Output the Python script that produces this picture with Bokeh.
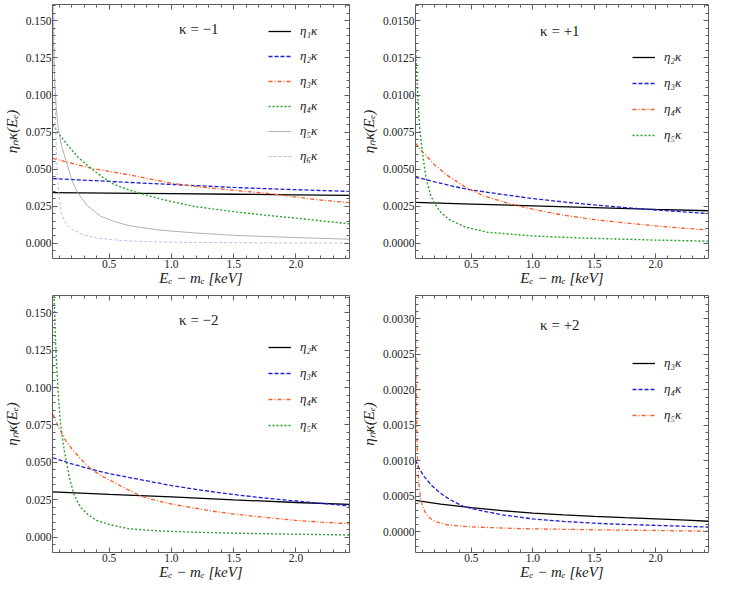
from bokeh.plotting import figure
from bokeh.layouts import gridplot
from bokeh.models import (Range1d, SingleIntervalTicker, PrintfTickFormatter,
                          LinearAxis, Legend, LegendItem, Label,
                          CustomLabelingPolicy)
from bokeh.embed import file_html
from bokeh.resources import INLINE

# ---------------- data ----------------
# panel kappa = -1
k1_e1_x = [0.047, 0.5, 1.0, 1.5, 2.0, 2.43]
k1_e1_y = [0.0342, 0.0338, 0.0335, 0.0331, 0.0327, 0.0324]
k1_e2_x = [0.047, 0.25, 0.5, 0.75, 1.0, 1.25, 1.5, 1.75, 2.0, 2.25, 2.43]
k1_e2_y = [0.0437, 0.0428, 0.0418, 0.0407, 0.0397, 0.0387, 0.0377, 0.0369, 0.0362, 0.0355, 0.0350]
k1_e3_x = [0.047, 0.2, 0.354, 0.5, 0.662, 0.8, 0.9, 1.0, 1.1, 1.177, 1.35, 1.5, 1.65, 1.81, 2.0, 2.2, 2.43]
k1_e3_y = [0.0573, 0.0540, 0.0507, 0.0485, 0.0462, 0.0438, 0.0422, 0.0406, 0.0393, 0.0385, 0.0370, 0.0358, 0.0346, 0.0334, 0.0312, 0.0292, 0.0274]
k1_e4_x = [0.047, 0.1, 0.174, 0.25, 0.354, 0.45, 0.534, 0.65, 0.765, 0.88, 1.0, 1.177, 1.35, 1.5, 1.75, 2.0, 2.2, 2.43]
k1_e4_y = [0.0800, 0.0735, 0.0655, 0.0580, 0.0505, 0.0445, 0.0400, 0.0362, 0.0334, 0.0306, 0.0282, 0.0250, 0.0230, 0.0214, 0.0190, 0.0170, 0.0152, 0.0132]
k1_e5_x = [0.047, 0.052, 0.058, 0.065, 0.075, 0.085, 0.096, 0.12, 0.16, 0.199, 0.247, 0.33, 0.431, 0.55, 0.662, 0.9, 1.177, 1.5, 2.0, 2.43]
k1_e5_y = [0.165, 0.140, 0.120, 0.105, 0.092, 0.082, 0.075, 0.065, 0.054, 0.043, 0.034, 0.025, 0.0183, 0.0145, 0.0119, 0.0090, 0.0071, 0.0054, 0.0039, 0.0028]
k1_e6_x = [0.047, 0.051, 0.055, 0.06, 0.066, 0.075, 0.083, 0.096, 0.11, 0.122, 0.15, 0.2, 0.3, 0.405, 0.6, 0.8, 1.2, 1.8, 2.43]
k1_e6_y = [0.23, 0.19, 0.155, 0.12, 0.096, 0.064, 0.047, 0.034, 0.024, 0.019, 0.0138, 0.0095, 0.0055, 0.0035, 0.0019, 0.0011, 0.0006, 0.0003, 0.0002]

# panel kappa = +1
p1_e2_x = [0.044, 0.5, 1.0, 1.5, 2.0, 2.43]
p1_e2_y = [0.00276, 0.00265, 0.00253, 0.00241, 0.00229, 0.00220]
p1_e3_x = [0.044, 0.2, 0.376, 0.5, 0.75, 1.0, 1.25, 1.5, 1.75, 2.0, 2.25, 2.43]
p1_e3_y = [0.00447, 0.00415, 0.00380, 0.00360, 0.00330, 0.00302, 0.00279, 0.00259, 0.00241, 0.00225, 0.00211, 0.00201]
p1_e4_x = [0.044, 0.1, 0.2, 0.3, 0.45, 0.6, 0.8, 1.0, 1.25, 1.5, 1.75, 2.0, 2.2, 2.43]
p1_e4_y = [0.00675, 0.0062, 0.0053, 0.0046, 0.0038, 0.0032, 0.0027, 0.0023, 0.0019, 0.0016, 0.00138, 0.00118, 0.00104, 0.0009]
p1_e5_x = [0.044, 0.05, 0.06, 0.07, 0.08, 0.1, 0.13, 0.17, 0.2, 0.25, 0.32, 0.45, 0.63, 1.0, 1.4, 2.0, 2.43]
p1_e5_y = [0.0135, 0.0122, 0.0105, 0.0090, 0.0077, 0.0062, 0.0044, 0.0032, 0.0027, 0.0021, 0.0016, 0.0011, 0.00075, 0.0005, 0.00036, 0.00022, 0.00015]

# panel kappa = -2
k2_e2_x = [0.047, 0.5, 1.0, 1.5, 2.0, 2.43]
k2_e2_y = [0.0303, 0.0287, 0.0270, 0.0250, 0.0232, 0.0219]
k2_e3_x = [0.047, 0.2, 0.354, 0.5, 0.75, 1.0, 1.25, 1.5, 1.75, 2.0, 2.25, 2.43]
k2_e3_y = [0.0531, 0.0490, 0.0455, 0.0425, 0.0385, 0.0345, 0.0313, 0.0285, 0.0262, 0.0242, 0.0223, 0.0209]
k2_e4_x = [0.047, 0.1, 0.148, 0.2, 0.276, 0.354, 0.45, 0.534, 0.65, 0.765, 0.9, 1.0, 1.177, 1.35, 1.5, 1.75, 2.0, 2.2, 2.43]
k2_e4_y = [0.0822, 0.0725, 0.0650, 0.0590, 0.0520, 0.0455, 0.0405, 0.0369, 0.0318, 0.0272, 0.0240, 0.0222, 0.0196, 0.0172, 0.0155, 0.0133, 0.0112, 0.0101, 0.0091]
k2_e5_x = [0.047, 0.052, 0.058, 0.065, 0.07, 0.083, 0.1, 0.11, 0.13, 0.148, 0.16, 0.18, 0.2, 0.212, 0.25, 0.276, 0.33, 0.405, 0.5, 0.662, 0.9, 1.177, 1.5, 2.0, 2.43]
k2_e5_y = [0.21, 0.185, 0.162, 0.142, 0.13, 0.108, 0.085, 0.0758, 0.063, 0.054, 0.049, 0.040, 0.034, 0.030, 0.023, 0.0196, 0.015, 0.011, 0.0085, 0.0056, 0.0042, 0.0034, 0.0027, 0.0020, 0.0015]

# panel kappa = +2
p2_e3_x = [0.044, 0.25, 0.5, 0.75, 1.0, 1.25, 1.5, 1.75, 2.0, 2.25, 2.43]
p2_e3_y = [0.000443, 0.000390, 0.000342, 0.000300, 0.000265, 0.000240, 0.000219, 0.000200, 0.000183, 0.000165, 0.000150]
p2_e4_x = [0.044, 0.08, 0.117, 0.18, 0.246, 0.33, 0.43, 0.5, 0.75, 1.0, 1.25, 1.5, 1.75, 2.0, 2.25, 2.43]
p2_e4_y = [0.00101, 0.00088, 0.000775, 0.00065, 0.000547, 0.00045, 0.000365, 0.000328, 0.000240, 0.000183, 0.000148, 0.000123, 0.000105, 0.000092, 0.000078, 0.000068]
p2_e5_x = [0.044, 0.047, 0.05, 0.053, 0.057, 0.062, 0.068, 0.078, 0.09, 0.1, 0.12, 0.15, 0.2, 0.3, 0.5, 0.9, 1.5, 2.0, 2.43]
p2_e5_y = [0.0036, 0.0028, 0.0022, 0.0017, 0.0013, 0.0010, 0.00078, 0.00058, 0.00044, 0.00038, 0.00029, 0.00021, 0.00015, 0.0001, 0.00007, 0.000046, 0.00003, 0.00002, 0.00001]

titles = ["κ = −1", "κ = +1", "κ = −2", "κ = +2"]
x_label = "Eₑ − mₑ [keV]"
y_label = "ηₙκ(Eₑ)"

# ---------------- styles ----------------
SERIF = "Liberation Serif"
FRAME = "#5e5e5e"
STY = {
    "black":  dict(line_color="#000000", line_width=1.3, line_dash="solid"),
    "blue":   dict(line_color="#1f1fd0", line_width=1.3, line_dash="4 2"),
    "orange": dict(line_color="#ff5a26", line_width=1.3, line_dash="4 2 1 2"),
    "green":  dict(line_color="#2ca02c", line_width=1.4, line_dash="2 2"),
    "gray":   dict(line_color="#a8a8a8", line_width=0.9, line_dash="solid"),
    "lav":    dict(line_color="#b4b4f0", line_width=0.9, line_dash="3 2"),
}

HIDE = "for (const i of indices) { indices.unset(i) }\nreturn indices"


def style_axis(ax, show, fmt=None):
    ax.axis_line_color = FRAME
    ax.major_tick_line_color = FRAME
    ax.minor_tick_line_color = FRAME
    ax.major_tick_in = 5
    ax.major_tick_out = 0
    ax.minor_tick_in = 3
    ax.minor_tick_out = 0
    if show:
        ax.major_label_text_font = SERIF
        ax.major_label_text_font_size = "11.5px"
        ax.major_label_text_color = "#222222"
        ax.major_label_standoff = 1
        if fmt:
            ax.formatter = PrintfTickFormatter(format=fmt)
        ax.axis_label_text_font = SERIF
        ax.axis_label_text_font_size = "15px"
        ax.axis_label_text_font_style = "italic"
        ax.axis_label_text_color = "#222222"
    else:
        ax.major_label_text_font_size = "1px"
        ax.major_label_standoff = 0
        ax.major_label_policy = CustomLabelingPolicy(code=HIDE)


def panel(width, height, yr, yint, yfmt, borders, title, title_y, series, leg_loc, leg_spacing):
    bl, br, bt, bb = borders
    p = figure(width=width, height=height, x_range=Range1d(0.045, 2.43),
               y_range=Range1d(*yr), output_backend="svg", toolbar_location=None,
               min_border_left=bl, min_border_right=br, min_border_top=bt,
               min_border_bottom=bb, outline_line_color=None,
               background_fill_color="white", border_fill_color="white")
    p.grid.visible = False
    p.xaxis.ticker = SingleIntervalTicker(interval=0.5, num_minor_ticks=5)
    p.yaxis.ticker = SingleIntervalTicker(interval=yint, num_minor_ticks=5)
    p.xaxis.axis_label = x_label
    p.yaxis.axis_label = y_label
    style_axis(p.xaxis[0], True, "%.1f")
    style_axis(p.yaxis[0], True, yfmt)
    p.xaxis[0].axis_label_standoff = -1
    p.yaxis[0].axis_label_standoff = 3
    top = LinearAxis(ticker=SingleIntervalTicker(interval=0.5, num_minor_ticks=5))
    right = LinearAxis(ticker=SingleIntervalTicker(interval=yint, num_minor_ticks=5))
    style_axis(top, False)
    style_axis(right, False)
    p.add_layout(top, "above")
    p.add_layout(right, "right")

    items = []
    for (xs, ys, sty, lab) in series:
        r = p.line(xs, ys, **STY[sty])
        items.append(LegendItem(label=lab, renderers=[r]))
    leg = Legend(items=items, location=leg_loc, border_line_alpha=0,
                 background_fill_alpha=0, padding=0, margin=0,
                 spacing=leg_spacing, glyph_width=23, glyph_height=20,
                 label_height=20, label_standoff=9,
                 label_text_font=SERIF, label_text_font_style="italic",
                 label_text_font_size="13px", label_text_color="#222222")
    p.add_layout(leg)

    ymin, ymax = yr
    p.add_layout(Label(x=1.22, y=ymin + title_y * (ymax - ymin), text=title,
                       text_align="center", text_baseline="middle",
                       text_font=SERIF, text_font_size="15px",
                       text_color="#222222"))
    return p


pa = panel(357, 291, (-0.0102, 0.161), 0.025, "%.3f", (48, 8, 0, 33),
           titles[0], 0.905,
           [(k1_e1_x, k1_e1_y, "black", "η₁κ"), (k1_e2_x, k1_e2_y, "blue", "η₂κ"),
            (k1_e3_x, k1_e3_y, "orange", "η₃κ"), (k1_e4_x, k1_e4_y, "green", "η₄κ"),
            (k1_e5_x, k1_e5_y, "gray", "η₅κ"), (k1_e6_x, k1_e6_y, "lav", "η₆κ")],
           (216, 92), 5)
pb = panel(358, 291, (-0.00102, 0.0161), 0.0025, "%.4f", (55, 2, 0, 33),
           titles[1], 0.895,
           [(p1_e2_x, p1_e2_y, "black", "η₂κ"), (p1_e3_x, p1_e3_y, "blue", "η₃κ"),
            (p1_e4_x, p1_e4_y, "orange", "η₄κ"), (p1_e5_x, p1_e5_y, "green", "η₅κ")],
           (217, 113), 6)
pc = panel(357, 293, (-0.0102, 0.1615), 0.025, "%.3f", (48, 8, 2, 32),
           titles[2], 0.905,
           [(k2_e2_x, k2_e2_y, "black", "η₂κ"), (k2_e3_x, k2_e3_y, "blue", "η₃κ"),
            (k2_e4_x, k2_e4_y, "orange", "η₄κ"), (k2_e5_x, k2_e5_y, "green", "η₅κ")],
           (216, 117), 6)
pd = panel(358, 293, (-0.00029, 0.00333), 0.0005, "%.4f", (55, 2, 2, 32),
           titles[3], 0.885,
           [(p2_e3_x, p2_e3_y, "black", "η₃κ"), (p2_e4_x, p2_e4_y, "blue", "η₄κ"),
            (p2_e5_x, p2_e5_y, "orange", "η₅κ")],
           (217, 127), 6)

grid = gridplot([[pa, pb], [pc, pd]], toolbar_location=None)

open("out.html", "w").write(file_html(grid, INLINE))
